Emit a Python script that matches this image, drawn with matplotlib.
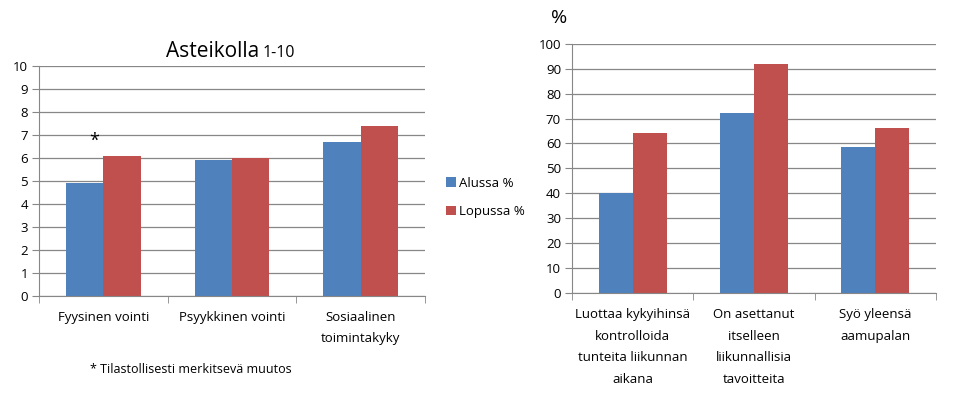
import matplotlib.pyplot as plt
import numpy as np

plt.rcParams['font.family'] = ['Open Sans', 'DejaVu Sans']

left_cats = ['Fyysinen vointi', 'Psyykkinen vointi', 'Sosiaalinen\ntoimintakyky']
left_alussa = [4.9, 5.9, 6.7]
left_lopussa = [6.1, 6.0, 7.4]

right_cats = ['Luottaa kykyihinsä\nkontrolloida\ntunteita liikunnan\naikana',
              'On asettanut\nitselleen\nliikunnallisia\ntavoitteita',
              'Syö yleensä\naamupalan']
right_alussa = [40.2, 72.3, 58.4]
right_lopussa = [64.4, 92.1, 66.3]

series_names = ['Alussa %', 'Lopussa %']
blue = '#4F81BD'
red = '#C0504D'
grid_c = '#878787'


def style_axes(ax, n, ymax, step):
    ax.set_xlim(-0.5, n - 0.5)
    ax.set_ylim(0, ymax)
    ax.set_yticks(np.arange(0, ymax + step / 2, step))
    ax.yaxis.grid(True, color=grid_c, linewidth=0.9)
    ax.set_axisbelow(True)
    for s in ['top', 'right']:
        ax.spines[s].set_visible(False)
    for s in ['left', 'bottom']:
        ax.spines[s].set_color(grid_c)
    ax.set_xticks(np.arange(n))
    ax.set_xticks(np.arange(-0.5, n, 1.0), minor=True)
    ax.tick_params(axis='x', which='major', length=0, pad=11, labelsize=9.5)
    ax.tick_params(axis='x', which='minor', length=5, color=grid_c)
    ax.tick_params(axis='y', length=5, color=grid_c, labelsize=9.5, pad=3)


def draw_bars(ax, a, b, w):
    x = np.arange(len(a))
    h1 = ax.bar(x - w / 2, a, w, color=blue)
    h2 = ax.bar(x + w / 2, b, w, color=red)
    return h1, h2


fig = plt.figure(figsize=(9.6, 3.99), dpi=100)

ax1 = fig.add_axes([0.0406, 0.258, 0.402, 0.577])
h1, h2 = draw_bars(ax1, left_alussa, left_lopussa, 0.29)
style_axes(ax1, 3, 10, 1)
ax1.set_xticklabels(left_cats, linespacing=1.75)
ax1.text(-0.07, 6.75, '*', ha='center', va='center', fontsize=13)
fig.text(0.270, 0.87, 'Asteikolla', ha='right', va='center', fontsize=15)
fig.text(0.273, 0.867, '1-10', ha='left', va='center', fontsize=11.5)
fig.text(0.094, 0.075, '* Tilastollisesti merkitsevä muutos', ha='left', va='center', fontsize=9)

ax2 = fig.add_axes([0.596, 0.266, 0.379, 0.624])
draw_bars(ax2, right_alussa, right_lopussa, 0.28)
style_axes(ax2, 3, 100, 10)
ax2.set_xticklabels(right_cats, linespacing=1.85, va='top')
fig.text(0.582, 0.955, '%', ha='center', va='center', fontsize=14)

fig.legend([h1, h2], series_names, loc='center left', bbox_to_anchor=(0.458, 0.505),
           frameon=False, fontsize=9.5, handlelength=0.7, handleheight=0.7,
           handletextpad=0.3, labelspacing=1.2, borderpad=0)

fig.savefig('out.png', dpi=100)
